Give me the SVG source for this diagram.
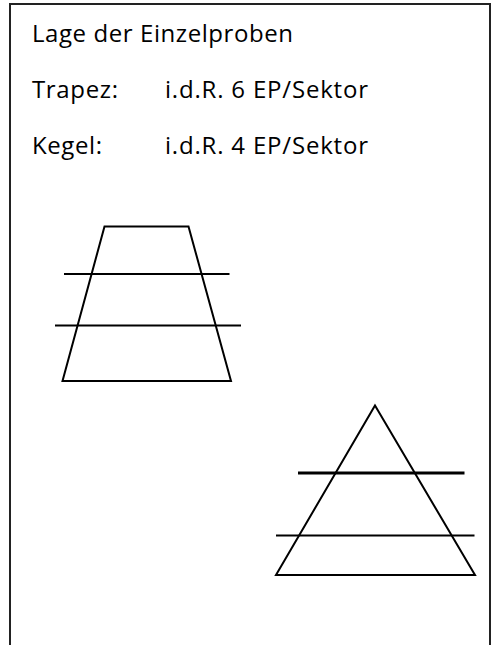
<svg xmlns="http://www.w3.org/2000/svg" width="495" height="645" viewBox="0 0 495 645">
<style>
.t{font-family:"Open Sans","Liberation Sans",sans-serif;font-size:24px;fill:#000}
.s{fill:none;stroke:#000;stroke-width:2}
</style>
<rect width="495" height="645" fill="#fff"/>
<g id="frame"><path d="M10 650 V4 H490 V650" fill="none" stroke="#222" stroke-width="2"/></g>
<g id="labels">
<text class="t" x="32" y="41.5" textLength="261">Lage der Einzelproben</text>
<text class="t" x="32" y="97.5" textLength="86">Trapez:</text>
<text class="t" x="165" y="97.5" textLength="203">i.d.R. 6 EP/Sektor</text>
<text class="t" x="32" y="154" textLength="70">Kegel:</text>
<text class="t" x="165" y="154" textLength="203">i.d.R. 4 EP/Sektor</text>
</g>
<g id="trapez">
<polygon class="s" points="104.5,226.5 188.5,226.5 231,381 62.5,381"/>
<line class="s" x1="64" y1="274" x2="229.5" y2="274"/>
<line class="s" x1="55" y1="325.5" x2="241" y2="325.5"/>
</g>
<g id="kegel">
<polygon class="s" points="375,405.5 475,575 276,575"/>
<line x1="298" y1="473" x2="464.5" y2="473" stroke="#000" stroke-width="3"/>
<line class="s" x1="276" y1="535.5" x2="474.5" y2="535.5"/>
</g>
</svg>
